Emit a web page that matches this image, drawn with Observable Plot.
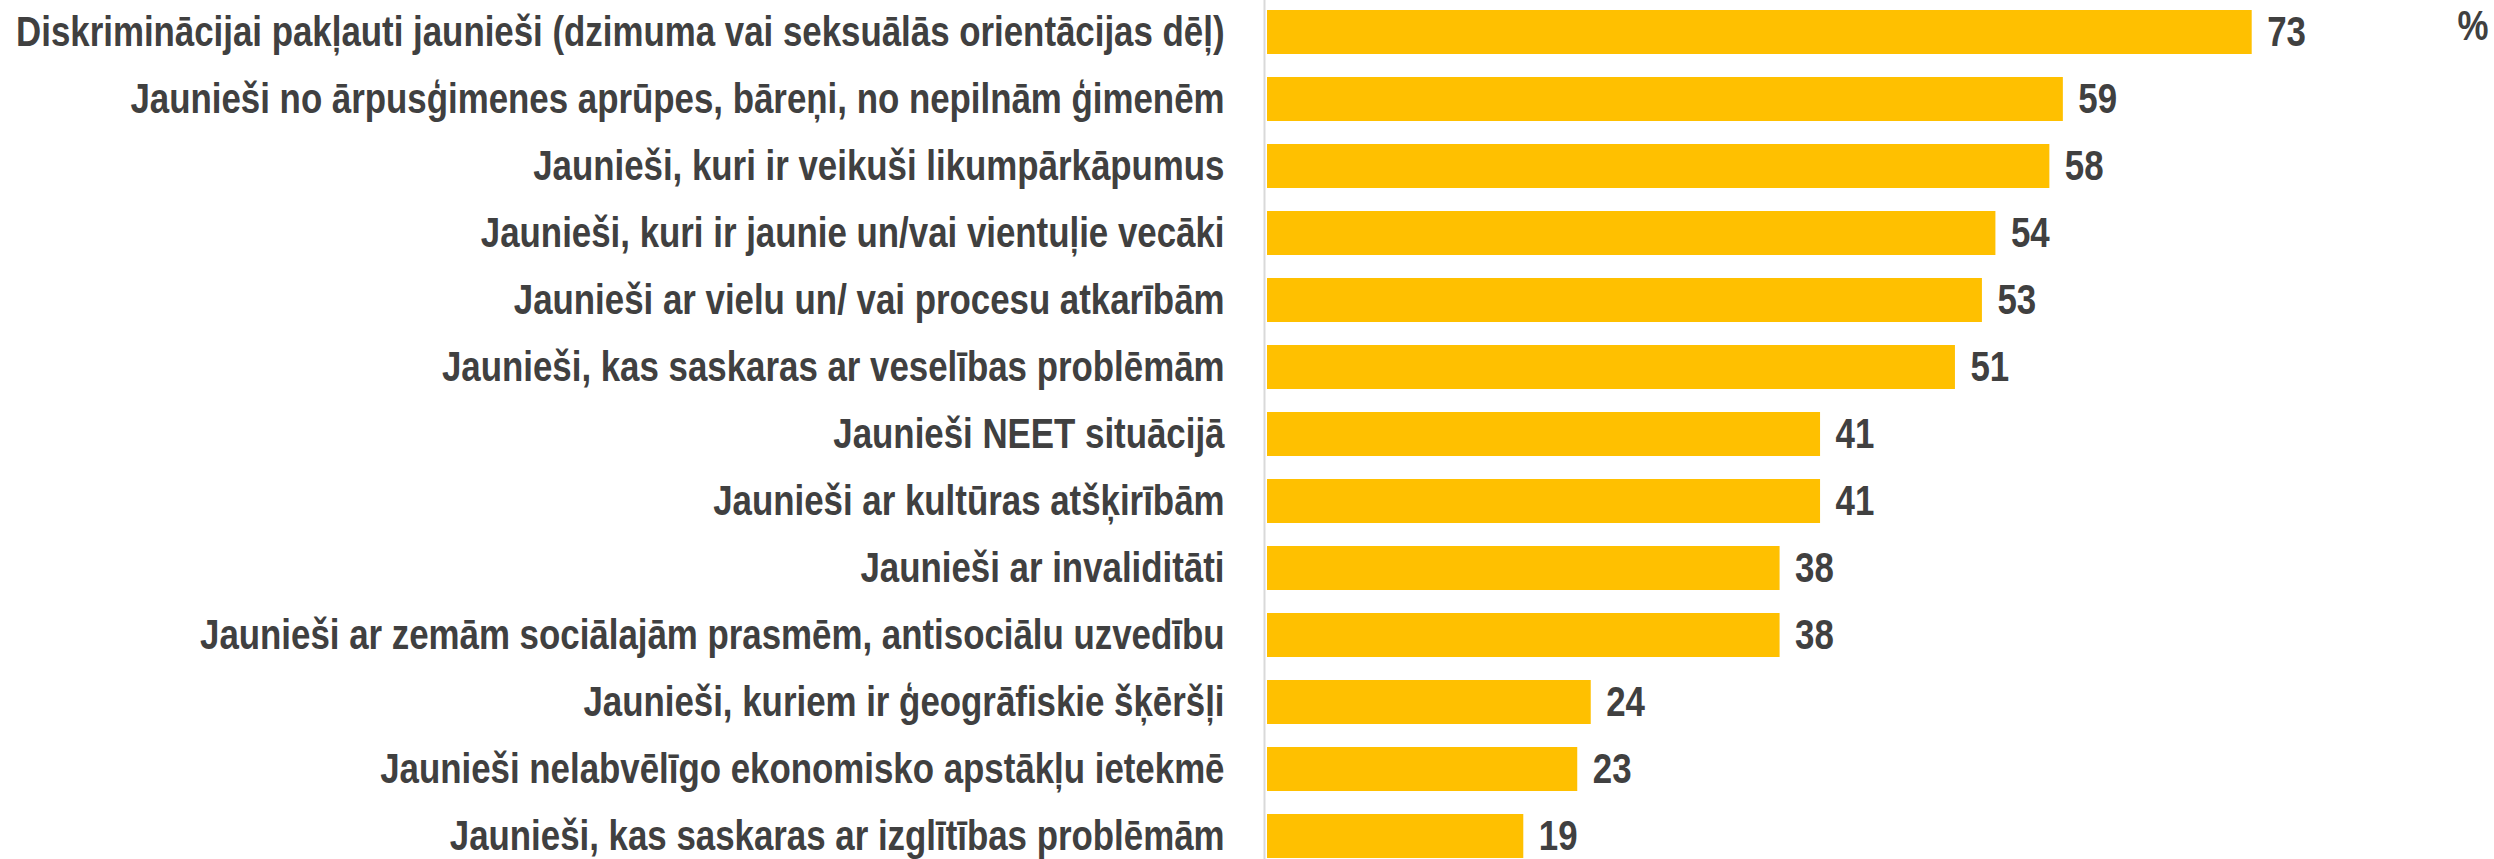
<!DOCTYPE html>
<html>
<head>
<meta charset="utf-8">
<script src="https://cdn.jsdelivr.net/npm/d3@7"></script>
<script src="https://cdn.jsdelivr.net/npm/@observablehq/plot@0.6"></script>
<style>
  html, body { margin: 0; padding: 0; background: #fff; }
  #chart svg { display: block; overflow: visible; }
</style>
</head>
<body>
<div id="chart"></div>
<script>
const categories = [
  "Diskriminācijai pakļauti jaunieši (dzimuma vai seksuālās orientācijas dēļ)",
  "Jaunieši no ārpusģimenes aprūpes, bāreņi, no nepilnām ģimenēm",
  "Jaunieši, kuri ir veikuši likumpārkāpumus",
  "Jaunieši, kuri ir jaunie un/vai vientuļie vecāki",
  "Jaunieši ar vielu un/ vai procesu atkarībām",
  "Jaunieši, kas saskaras ar veselības problēmām",
  "Jaunieši NEET situācijā",
  "Jaunieši ar kultūras atšķirībām",
  "Jaunieši ar invaliditāti",
  "Jaunieši ar zemām sociālajām prasmēm, antisociālu uzvedību",
  "Jaunieši, kuriem ir ģeogrāfiskie šķēršļi",
  "Jaunieši nelabvēlīgo ekonomisko apstākļu ietekmē",
  "Jaunieši, kas saskaras ar izglītības problēmām"
];
const values = [73, 59, 58, 54, 53, 51, 41, 41, 38, 38, 24, 23, 19];
const unitLabel = "%";

const data = categories.map((c, i) => ({category: c, value: values[i]}));

const font = "'Liberation Sans', Arial, sans-serif";
const textColor = "#404040";

const chart = Plot.plot({
  width: 2494,
  height: 859,
  marginLeft: 1267,
  marginRight: 0,
  marginTop: 0,
  marginBottom: 0,
  style: {background: "#fff", overflow: "visible", fontFamily: font},
  x: {domain: [0, 73], range: [1267, 2251.7], axis: null},
  y: {domain: categories, range: [-4.7, 871.8], paddingInner: 0.3475, paddingOuter: 0.174, label: null},
  marks: [
    Plot.barX(data, {x: "value", y: "category", fill: "#FFC000"}),
    Plot.ruleX([0], {stroke: "#d9d9d9", strokeWidth: 2, dx: -3}),
    Plot.axisY({tickSize: 0, tickPadding: 43, fontSize: 42, fontWeight: "bold", fill: textColor, fontFamily: font, label: null}),
    Plot.text(data, {x: "value", y: "category", text: d => String(d.value), textAnchor: "start", dx: 15, fontSize: 42, fontWeight: "bold", fill: textColor, fontFamily: font}),
    Plot.text([unitLabel], {frameAnchor: "top-right", text: d => d, textAnchor: "end", dx: -6, dy: 10, fontSize: 42, fontWeight: "bold", fill: textColor, fontFamily: font})
  ]
});
document.getElementById("chart").appendChild(chart);

// narrow the glyphs horizontally (reference uses a narrow bold face)
const k = 0.83;
d3.select(chart).selectAll("text").each(function() {
  const t = this.getAttribute("transform") || "";
  const x = +this.getAttribute("x") || 0;
  const y = +this.getAttribute("y") || 0;
  this.setAttribute("transform", `${t} translate(${x},${y}) scale(${k},1) translate(${-x},${-y})`);
});
</script>
</body>
</html>
